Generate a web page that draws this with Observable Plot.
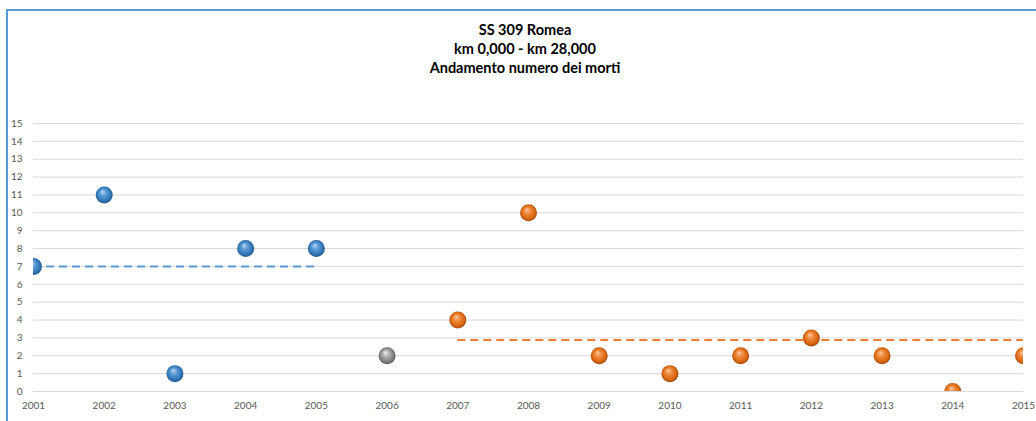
<!DOCTYPE html>
<html>
<head>
<meta charset="utf-8">
<script src="https://cdn.jsdelivr.net/npm/d3@7"></script>
<script src="https://cdn.jsdelivr.net/npm/@observablehq/plot@0.6"></script>
<style>
  html, body { margin: 0; padding: 0; background: #fff; }
  #wrap { position: relative; width: 1036px; height: 421px; overflow: hidden; font-family: Lato, "Open Sans", sans-serif; }
  #frame { position: absolute; left: 6px; top: 9px; width: 1200px; height: 600px; border: 2px solid #5b9bd5; box-sizing: border-box; }
  .title { position: absolute; left: 0; width: 1050px; text-align: center; font-weight: bold; font-size: 14.5px; color: #000; line-height: 19px; }
  #chart { position: absolute; left: 0; top: 100px; }
</style>
</head>
<body>
<div id="wrap">
  <div id="frame"></div>
  <div class="title" style="top:20px">SS 309 Romea<br>km 0,000 - km 28,000<br>Andamento numero dei morti</div>
  <div id="chart"></div>
</div>
<script>
const years  = [2001, 2002, 2003, 2004, 2005, 2006, 2007, 2008, 2009, 2010, 2011, 2012, 2013, 2014, 2015];
const deaths = [7, 11, 1, 8, 8, 2, 4, 10, 2, 1, 2, 3, 2, 0, 2];
const period = ["before", "before", "before", "before", "before", "transition", "after", "after", "after", "after", "after", "after", "after", "after", "after"];
const yTicks = [0, 1, 2, 3, 4, 5, 6, 7, 8, 9, 10, 11, 12, 13, 14, 15];

const data = years.map((y, i) => ({year: y, deaths: deaths[i], period: period[i]}));
const before = data.filter(d => d.period === "before");
const after = data.filter(d => d.period === "after");
const means = [
  {x1: d3.min(before, d => d.year), x2: d3.max(before, d => d.year), y: d3.mean(before, d => d.deaths)},
  {x1: d3.min(after, d => d.year), x2: d3.max(after, d => d.year), y: d3.mean(after, d => d.deaths)}
];

const svg = Plot.plot({
  width: 1036,
  height: 321,
  marginLeft: 33,
  marginRight: 13,
  marginTop: 23,
  marginBottom: 30,
  style: {fontFamily: "Lato, 'Open Sans', sans-serif", fontSize: "10px", color: "#595959", background: "transparent"},
  x: {domain: [2001, 2015], ticks: years, tickFormat: d => String(d), label: null},
  y: {domain: [0, 15], ticks: yTicks, label: null},
  marks: [
    Plot.gridY(yTicks, {stroke: "#d9d9d9", strokeOpacity: 1, strokeWidth: 1}),
    Plot.axisY(yTicks, {tickSize: 0, tickPadding: 11, fill: "#595959", fontSize: 10}),
    Plot.axisX(years, {tickSize: 0, tickPadding: 10, fill: "#595959", fontSize: 10, tickFormat: d => String(d)}),
    Plot.ruleY(means.slice(0, 1), {x1: "x1", x2: "x2", y: "y", stroke: "#5b9bd5", strokeWidth: 2, strokeDasharray: "8,5"}),
    Plot.ruleY(means.slice(1), {x1: "x1", x2: "x2", y: "y", stroke: "#ed7d31", strokeWidth: 2, strokeDasharray: "8,5", clip: true}),
    Plot.dot(data.filter(d => d.period === "before"), {x: "year", y: "deaths", r: 8.5, fill: "url(#g-blue)", stroke: "none", clip: true}),
    Plot.dot(data.filter(d => d.period === "transition"), {x: "year", y: "deaths", r: 8.5, fill: "url(#g-gray)", stroke: "none", clip: true}),
    Plot.dot(data.filter(d => d.period === "after"), {x: "year", y: "deaths", r: 8.5, fill: "url(#g-orange)", stroke: "none", clip: true})
  ]
});

const defs = d3.select(svg).insert("defs", ":first-child");
function grad(id, stops) {
  const g = defs.append("radialGradient").attr("id", id)
    .attr("cx", "50%").attr("cy", "50%").attr("r", "55%")
    .attr("fx", "40%").attr("fy", "30%");
  stops.forEach(([o, c]) => g.append("stop").attr("offset", o).attr("stop-color", c));
}
grad("g-blue", [["0%", "#bdd7ee"], ["35%", "#5b9bd5"], ["75%", "#2e75b6"], ["100%", "#1f4e79"]]);
grad("g-orange", [["0%", "#f8cbad"], ["35%", "#f08a3c"], ["75%", "#d9650f"], ["100%", "#843c0c"]]);
grad("g-gray", [["0%", "#f2f2f2"], ["35%", "#b0b0b0"], ["75%", "#808080"], ["100%", "#404040"]]);

document.getElementById("chart").appendChild(svg);
</script>
</body>
</html>
